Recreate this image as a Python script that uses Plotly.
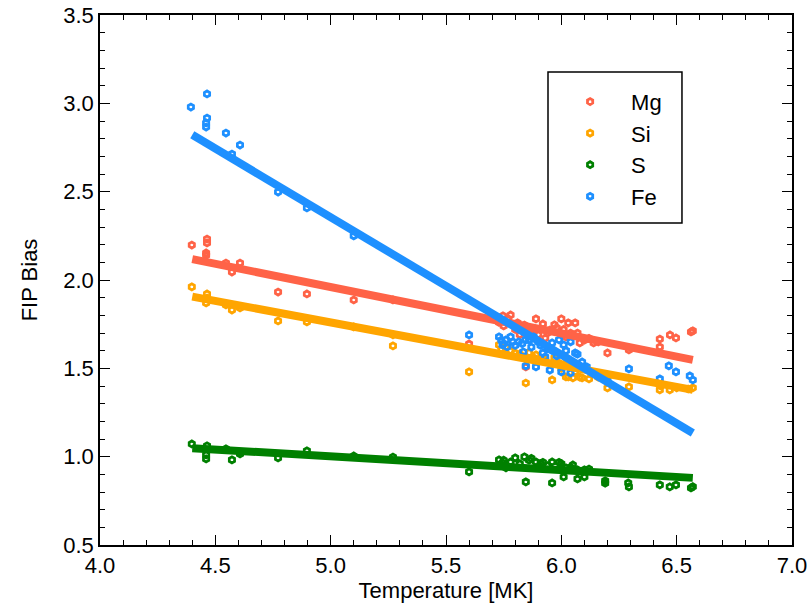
import plotly.graph_objects as go

# ---------------- data ----------------
mg_t = [4.398, 4.464, 4.464, 4.46, 4.46, 4.546, 4.572, 4.607, 4.772, 4.897, 5.10, 5.27, 5.60,
        5.747, 5.78, 5.81, 5.84, 5.89, 5.92, 5.97, 6.00, 6.03, 6.06, 5.95, 6.02, 6.05, 6.08, 6.14,
        5.75, 5.80, 5.86, 5.90, 5.98, 6.10, 5.846, 6.20, 6.293, 6.427, 6.427, 6.471, 6.497, 6.562, 6.57,
        5.73, 5.77, 5.83, 5.87, 5.94, 6.01, 6.04, 6.12, 6.16, 5.82, 5.93, 6.07]
mg_v = [2.198, 2.232, 2.21, 2.153, 2.14, 2.096, 2.045, 2.096, 1.932, 1.921, 1.887, 1.887, 1.638,
        1.797, 1.802, 1.757, 1.745, 1.78, 1.751, 1.746, 1.78, 1.757, 1.757, 1.717, 1.678, 1.689, 1.644, 1.644,
        1.74, 1.72, 1.70, 1.69, 1.73, 1.66, 1.508, 1.587, 1.604, 1.666, 1.621, 1.689, 1.672, 1.706, 1.712,
        1.76, 1.78, 1.73, 1.71, 1.70, 1.72, 1.70, 1.67, 1.65, 1.69, 1.67, 1.70]

si_t = [4.398, 4.464, 4.46, 4.464, 4.546, 4.572, 4.607, 4.772, 4.897, 5.10, 5.27, 5.27, 5.60,
        5.73, 5.76, 5.80, 5.846, 5.89, 5.93, 5.97, 6.01, 6.02, 6.03, 6.05, 6.09, 6.12, 6.19,
        5.846, 5.96, 6.02, 6.08, 6.20, 6.293, 6.427, 6.47, 6.55, 6.57, 5.78, 5.88, 6.00,
        5.74, 5.82, 5.86, 5.91, 5.99, 6.06, 6.14, 6.16, 6.43, 6.50]
si_v = [1.961, 1.921, 1.870, 1.898, 1.859, 1.83, 1.842, 1.768, 1.763, 1.734, 1.69, 1.627, 1.48,
        1.633, 1.62, 1.587, 1.565, 1.576, 1.548, 1.559, 1.52, 1.56, 1.451, 1.446, 1.446, 1.44, 1.463,
        1.417, 1.434, 1.451, 1.45, 1.389, 1.395, 1.378, 1.378, 1.383, 1.39, 1.60, 1.56, 1.50,
        1.61, 1.58, 1.59, 1.55, 1.53, 1.48, 1.47, 1.45, 1.40, 1.39]

s_t = [4.398, 4.464, 4.46, 4.46, 4.546, 4.572, 4.607, 4.772, 4.897, 5.10, 5.27, 5.60,
       5.73, 5.745, 5.76, 5.80, 5.84, 5.87, 5.89, 5.92, 5.96, 5.99, 6.02, 6.05, 6.07, 6.10,
       5.846, 5.96, 6.01, 6.07, 6.10, 6.19, 6.19, 6.29, 6.293, 6.427, 6.47, 6.497, 6.562, 6.57,
       5.75, 5.78, 5.82, 5.86, 5.91, 5.94, 6.00, 6.04, 6.12]
s_v = [1.072, 1.061, 1.010, 0.987, 1.044, 0.982, 1.016, 0.993, 1.033, 1.004, 0.998, 0.914,
       0.982, 0.965, 0.937, 0.993, 0.999, 0.99, 0.97, 0.968, 0.97, 0.968, 0.937, 0.953, 0.925, 0.925,
       0.857, 0.851, 0.885, 0.874, 0.885, 0.863, 0.85, 0.851, 0.829, 0.84, 0.829, 0.84, 0.823, 0.83,
       0.98, 0.97, 0.96, 0.98, 0.96, 0.95, 0.96, 0.94, 0.93]

fe_t = [4.394, 4.464, 4.464, 4.46, 4.46, 4.546, 4.607, 4.572, 4.772, 4.897, 5.10, 5.60,
        5.73, 5.76, 5.78, 5.745, 5.765, 5.815, 5.845, 5.88, 5.90, 5.92, 5.96, 5.99, 6.01, 6.04, 6.06, 6.09, 6.11,
        5.846, 5.89, 5.95, 5.96, 6.00, 6.04, 6.20, 6.293, 5.835, 5.93, 6.427, 6.466, 6.497, 6.557, 6.57,
        5.74, 5.75, 5.79, 5.80, 5.83, 5.86, 5.87, 5.91, 5.94, 5.98, 6.02, 6.07]
fe_v = [2.979, 3.053, 2.917, 2.889, 2.866, 2.832, 2.764, 2.713, 2.498, 2.408, 2.25, 1.689,
        1.678, 1.661, 1.678, 1.633, 1.621, 1.65, 1.661, 1.678, 1.65, 1.587, 1.644, 1.661, 1.633, 1.65, 1.587, 1.536, 1.508,
        1.514, 1.508, 1.49, 1.60, 1.48, 1.474, 1.434, 1.497, 1.593, 1.565, 1.44, 1.514, 1.48, 1.457, 1.434,
        1.66, 1.64, 1.65, 1.63, 1.64, 1.66, 1.62, 1.63, 1.61, 1.57, 1.60, 1.58]

# linear fits (end points)
fit_t = [4.40, 6.57]
mg_fit = [2.118, 1.548]
si_fit = [1.906, 1.378]
s_fit = [1.048, 0.880]
fe_fit = [2.822, 1.134]

series = [
    ("Mg", mg_t, mg_v, mg_fit, "#FF6347"),
    ("Si", si_t, si_v, si_fit, "#FFA500"),
    ("S", s_t, s_v, s_fit, "#008000"),
    ("Fe", fe_t, fe_v, fe_fit, "#1E90FF"),
]

FONT = "Liberation Sans, Arial, sans-serif"

fig = go.Figure()
for name, t, v, fit, col in series:
    fig.add_trace(go.Scatter(
        x=t, y=v, mode="markers", name=name, showlegend=True,
        marker=dict(symbol="hexagon-open", size=6, color=col, line=dict(width=2.8, color=col)),
    ))
for name, t, v, fit, col in series:
    fig.add_trace(go.Scatter(
        x=fit_t, y=fit, mode="lines", showlegend=False,
        line=dict(color=col, width=8),
    ))

axis_common = dict(
    showline=True, linecolor="black", linewidth=1.5, mirror="ticks",
    ticks="inside", ticklen=10, tickwidth=1.2, tickcolor="black",
    showgrid=False, zeroline=False, automargin=False,
    tickfont=dict(family=FONT, size=22, color="black"),
)
fig.update_xaxes(range=[4.0, 7.0], dtick=0.5, tick0=4.0, tickformat=".1f",
                 minor=dict(dtick=0.1, ticks="inside", ticklen=5, tickcolor="black", tickwidth=1.2),
                 title=dict(text="Temperature [MK]", standoff=2,
                            font=dict(family=FONT, size=22, color="black")),
                 **axis_common)
fig.update_yaxes(range=[0.5, 3.5], dtick=0.5, tick0=0.5, tickformat=".1f",
                 minor=dict(dtick=0.1, ticks="inside", ticklen=5, tickcolor="black", tickwidth=1.2),
                 title=dict(text="FIP Bias", standoff=20,
                            font=dict(family=FONT, size=22, color="black")),
                 **axis_common)

# legend frame
fig.add_shape(type="rect", xref="paper", yref="paper",
              x0=0.6474, x1=0.841, y0=0.6075, y1=0.8925,
              line=dict(color="black", width=1.5), fillcolor="white", layer="above")

fig.update_layout(
    width=808, height=605,
    margin=dict(l=100, r=16, t=15, b=60),
    paper_bgcolor="white", plot_bgcolor="white",
    legend=dict(x=0.649, y=0.876, xanchor="left", yanchor="top",
                bgcolor="rgba(0,0,0,0)", borderwidth=0,
                font=dict(family=FONT, size=22, color="black"),
                itemwidth=72),
)

fig.write_html("out.html", config={"displayModeBar": False},
               post_script="document.body.style.margin='0px';document.body.style.overflow='hidden';")
